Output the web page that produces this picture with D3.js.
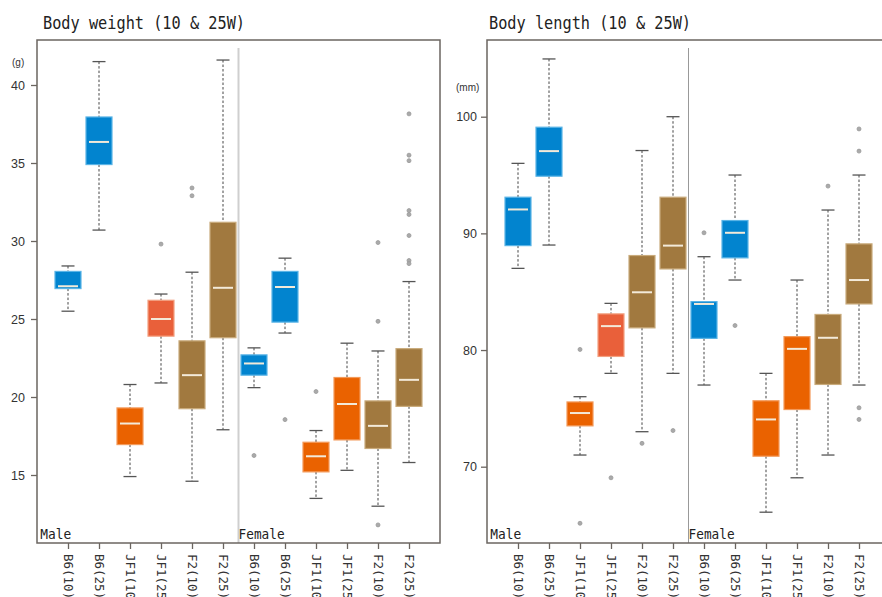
<!DOCTYPE html>
<html><head><meta charset="utf-8">
<script src="https://cdn.jsdelivr.net/npm/d3@7"></script>
<style>
body{margin:0;background:#fff;}
svg{display:block;}
</style></head>
<body>
<svg id="chart" width="882" height="597"></svg>
<script>
const categories = ["B6(10)","B6(25)","JF1(10)","JF1(25)","F2(10)","F2(25)","B6(10)","B6(25)","JF1(10)","JF1(25)","F2(10)","F2(25)"];
const strains = ["B6","B6","JF1","JF1b","F2","F2","B6","B6","JF1","JF1","F2","F2"];
const sexLabels = ["Male","Female"];

// Body weight (g)
const weightTicks = [15,20,25,30,35,40];
const weightLow  = [25.5,30.7,14.9,20.9,14.6,17.9, 20.6,24.1,13.5,15.3,13.0,15.8];
const weightQ1   = [26.95,34.9,16.95,23.9,19.25,23.8, 21.4,24.8,15.2,17.25,16.7,19.4];
const weightMed  = [27.1,36.35,18.3,25.0,21.4,27.0, 22.15,27.05,16.2,19.55,18.15,21.1];
const weightQ3   = [28.05,37.95,19.3,26.2,23.6,31.2, 22.7,28.05,17.1,21.25,19.75,23.1];
const weightHigh = [28.4,41.5,20.8,26.6,28.0,41.6, 23.15,28.9,17.85,23.45,22.95,27.4];
const weightOut  = [[],[],[],[29.8],[33.4,32.9],[], [16.25],[18.55],[20.35],[],[29.9,24.85,11.8],[38.15,35.5,35.15,31.95,31.7,30.35,28.75,28.55]];

// Body length (mm)
const lengthTicks = [70,80,90,100];
const lengthLow  = [87.0,89.0,71.0,78.0,73.0,78.0, 77.0,86.0,66.1,69.05,71.0,77.0];
const lengthQ1   = [88.95,94.9,73.5,79.45,81.9,86.95, 81.0,87.9,70.9,74.9,77.05,83.95];
const lengthMed  = [92.05,97.05,74.6,82.05,84.95,88.95, 83.95,90.05,74.05,80.1,81.05,86.0];
const lengthQ3   = [93.1,99.1,75.55,83.1,88.1,93.1, 84.15,91.1,75.65,81.15,83.05,89.1];
const lengthHigh = [96.0,104.95,76.0,84.0,97.1,100.0, 88.0,95.0,78.0,86.0,92.0,95.0];
const lengthOut  = [[],[],[80.05,65.15],[69.05],[72.0],[73.1], [90.05],[82.1],[],[],[94.05],[98.95,97.05,75.05,74.05]];

const fill = {B6:"#0284cf", JF1:"#ea6200", JF1b:"#e9603a", F2:"#a1793f"};
const edge = {B6:"#5ab4e6", JF1:"#f39a5a", JF1b:"#f3a080", F2:"#c9ab7c"};

const svg = d3.select("#chart");
const monoFont = "'DejaVu Sans Mono', 'Liberation Mono', monospace";
const tickFont = "'Liberation Sans', Arial, sans-serif";

function panel(opt){
  const g = svg.append("g");
  const L = opt.left, T = 40, B = 543, W = 403;
  const x = d3.scaleLinear().domain([0,13]).range([L, L+W]);
  const y = d3.scaleLinear().domain(opt.yDomain).range(opt.yRange);

  // title
  g.append("text").attr("x", opt.titleX).attr("y", 29)
    .attr("font-family", monoFont).attr("font-size", 17).attr("fill","#222")
    .attr("textLength", 202).attr("lengthAdjust","spacingAndGlyphs")
    .text(opt.title);

  // separator
  g.append("line").attr("x1", x(6.5)).attr("x2", x(6.5)).attr("y1", 48).attr("y2", B)
    .attr("stroke", opt.sepColor).attr("stroke-width", opt.sepWidth);

  // boxes
  const idx = d3.range(categories.length);
  const bw = 26, cw = 13;
  const gb = g.append("g");
  idx.forEach(i => {
    const cx = x(i+1);
    gb.append("line").attr("x1",cx).attr("x2",cx).attr("y1",y(opt.high[i])).attr("y2",y(opt.q3[i]))
      .attr("stroke","#444").attr("stroke-width",1).attr("stroke-dasharray","2.5,2");
    gb.append("line").attr("x1",cx).attr("x2",cx).attr("y1",y(opt.q1[i])).attr("y2",y(opt.low[i]))
      .attr("stroke","#444").attr("stroke-width",1).attr("stroke-dasharray","2.5,2");
    gb.append("line").attr("x1",cx-cw/2).attr("x2",cx+cw/2).attr("y1",y(opt.high[i])).attr("y2",y(opt.high[i]))
      .attr("stroke","#555").attr("stroke-width",1.3);
    gb.append("line").attr("x1",cx-cw/2).attr("x2",cx+cw/2).attr("y1",y(opt.low[i])).attr("y2",y(opt.low[i]))
      .attr("stroke","#555").attr("stroke-width",1.3);
    const s = strains[i];
    gb.append("rect").attr("x",cx-bw/2).attr("width",bw)
      .attr("y",y(opt.q3[i])).attr("height",y(opt.q1[i])-y(opt.q3[i]))
      .attr("fill",fill[s]).attr("stroke",edge[s]).attr("stroke-width",1.2);
    gb.append("line").attr("x1",cx-bw/2+3).attr("x2",cx+bw/2-3).attr("y1",y(opt.med[i])).attr("y2",y(opt.med[i]))
      .attr("stroke","#f3ead9").attr("stroke-width",2);
    opt.out[i].forEach(v => {
      gb.append("circle").attr("cx",cx).attr("cy",y(v)).attr("r",2)
        .attr("fill","#aaa").attr("stroke","#999").attr("stroke-width",0.8);
    });
  });

  // frame
  g.append("rect").attr("x",L).attr("y",T).attr("width",W).attr("height",B-T)
    .attr("fill","none").attr("stroke","#6b6560").attr("stroke-width",1.5);

  // y axis
  const ya = g.append("g").attr("transform",`translate(${L},0)`)
    .call(d3.axisLeft(y).tickValues(opt.ticks).tickSize(6).tickPadding(opt.tickPad).tickFormat(d3.format("d")));
  ya.select(".domain").remove();
  ya.selectAll(".tick line").attr("stroke","#6b6560").attr("stroke-width",1.3);
  ya.selectAll(".tick text").attr("font-family",tickFont).attr("font-size",12.5).attr("fill","#333");

  g.append("text").attr("x", opt.unitX).attr("y", opt.unitY)
    .attr("font-family", tickFont).attr("font-size", 10).attr("fill","#333").text(opt.unit);

  // x axis
  const xa = g.append("g").attr("transform",`translate(0,${B})`)
    .call(d3.axisBottom(x).tickValues(idx.map(i=>i+1)).tickSize(6).tickFormat(d => categories[d-1]));
  xa.select(".domain").remove();
  xa.selectAll(".tick line").attr("stroke","#6b6560").attr("stroke-width",1.3);
  xa.selectAll(".tick text")
    .attr("font-family",monoFont).attr("font-size",12.5).attr("fill","#333")
    .attr("transform","rotate(90)").attr("x",11).attr("y",0).attr("dy","0.35em")
    .attr("text-anchor","start");

  // sex labels
  [0.2,6.6].forEach((p,k) => {
    g.append("text").attr("x", x(p)+opt.sexDx).attr("y", 539)
      .attr("font-family", monoFont).attr("font-size", 14).attr("fill","#222")
      .attr("textLength", k===0 ? 31 : 46).attr("lengthAdjust","spacingAndGlyphs")
      .text(sexLabels[k]);
  });
}

panel({left:37, title:"Body weight (10 & 25W)", titleX:43,
  yDomain:[15,40], yRange:[475,85], ticks:weightTicks, tickPad:6,
  low:weightLow,q1:weightQ1,med:weightMed,q3:weightQ3,high:weightHigh,out:weightOut,
  sepColor:"#cfcfcf", sepWidth:2, unit:"(g)", unitX:12, unitY:66, sexDx:-3});

panel({left:487, title:"Body length (10 & 25W)", titleX:489,
  yDomain:[70,100], yRange:[466.7,116.7], ticks:lengthTicks, tickPad:4,
  low:lengthLow,q1:lengthQ1,med:lengthMed,q3:lengthQ3,high:lengthHigh,out:lengthOut,
  sepColor:"#999", sepWidth:1, unit:"(mm)", unitX:456, unitY:91, sexDx:-3});
</script>
</body></html>
